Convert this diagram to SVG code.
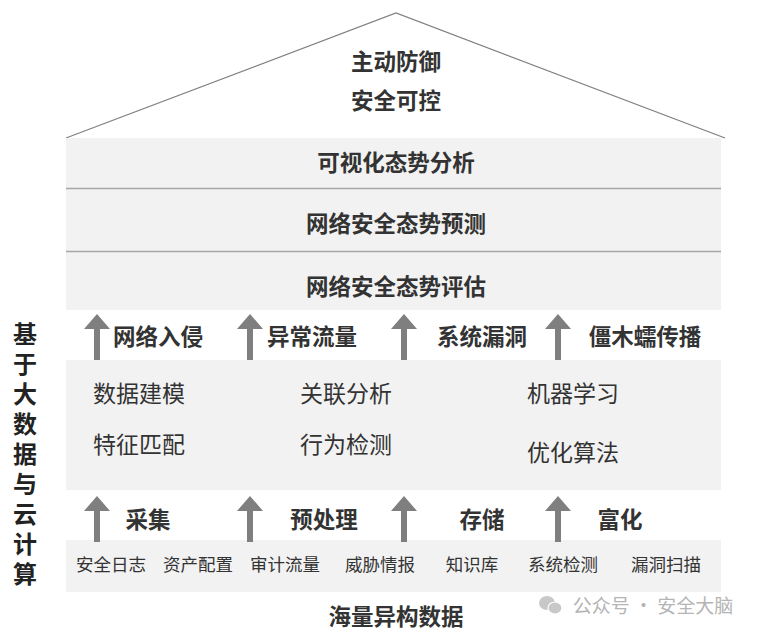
<svg xmlns="http://www.w3.org/2000/svg" width="760" height="639" viewBox="0 0 760 639">
<defs>
<style>
text{font-family:"Noto Sans CJK SC","Noto Sans",sans-serif;text-anchor:middle;dominant-baseline:central;fill:#333}
.t{font-size:22.5px;font-weight:bold}
.m{font-size:23px;font-weight:normal;text-anchor:start}
.s{font-size:17.5px;font-weight:normal}
.v{font-size:24px;font-weight:bold;fill:#222;writing-mode:vertical-rl;text-anchor:start;letter-spacing:6px}
.band{fill:#f2f2f2}
.arr{fill:#7f7f7f}
</style>
<g id="arrow">
<polygon points="0,0 13,15 3,15 3,46 -3,46 -3,15 -13,15"/>
</g>
</defs>
<rect width="760" height="639" fill="#fff"/>
<g id="roof">
<polyline points="66,138 396,13 725,138" fill="none" stroke="#7f7f7f" stroke-width="1.2"/>
<text class="t" x="396" y="60">主动防御</text>
<text class="t" x="396" y="99">安全可控</text>
</g>
<g id="top-layers">
<rect class="band" x="66" y="138" width="655" height="172"/>
<line x1="66" y1="188.5" x2="721" y2="188.5" stroke="#a6a6a6" stroke-width="1.5"/>
<line x1="66" y1="251.5" x2="721" y2="251.5" stroke="#a6a6a6" stroke-width="1.5"/>
<text class="t" x="396" y="161">可视化态势分析</text>
<text class="t" x="396" y="222">网络安全态势预测</text>
<text class="t" x="396" y="285">网络安全态势评估</text>
</g>
<g id="middle">
<rect class="band" x="66" y="360" width="655" height="130"/>
<text class="m" x="93" y="392">数据建模</text>
<text class="m" x="93" y="443">特征匹配</text>
<text class="m" x="300" y="392">关联分析</text>
<text class="m" x="300" y="443">行为检测</text>
<text class="m" x="527" y="392">机器学习</text>
<text class="m" x="527" y="451">优化算法</text>
</g>
<g id="bottom">
<rect class="band" x="66" y="540" width="655" height="52"/>
<text class="s" x="111" y="563">安全日志</text>
<text class="s" x="198" y="563">资产配置</text>
<text class="s" x="285" y="563">审计流量</text>
<text class="s" x="380" y="563">威胁情报</text>
<text class="s" x="472" y="563">知识库</text>
<text class="s" x="563" y="563">系统检测</text>
<text class="s" x="666" y="563">漏洞扫描</text>
</g>
<g id="connectors" class="arr">
<use href="#arrow" x="97" y="314"/>
<use href="#arrow" x="250" y="314"/>
<use href="#arrow" x="404" y="314"/>
<use href="#arrow" x="558" y="314"/>
<use href="#arrow" x="97" y="496"/>
<use href="#arrow" x="250" y="496"/>
<use href="#arrow" x="404" y="496"/>
<use href="#arrow" x="558" y="496"/>
</g>
<g id="arrow-labels">
<text class="t" x="158" y="335">网络入侵</text>
<text class="t" x="312" y="335">异常流量</text>
<text class="t" x="482" y="335">系统漏洞</text>
<text class="t" x="645" y="335">僵木蠕传播</text>
<text class="t" x="148" y="518">采集</text>
<text class="t" x="324" y="518">预处理</text>
<text class="t" x="482" y="518">存储</text>
<text class="t" x="620" y="518">富化</text>
</g>
<g id="side-label">
<text class="v" x="25" y="322">基于大数据与云计算</text>
</g>
<g id="source">
<text class="t" x="396" y="615">海量异构数据</text>
</g>
<g id="watermark">
<ellipse cx="547" cy="603" rx="8" ry="7" fill="#c8c8c8"/>
<ellipse cx="555" cy="608" rx="7" ry="6" fill="#c8c8c8" stroke="#fff" stroke-width="1.2"/>
<text x="653" y="604" style="font-size:19px;fill:#b5b5b5;font-weight:normal">公众号 · 安全大脑</text>
</g>
</svg>
